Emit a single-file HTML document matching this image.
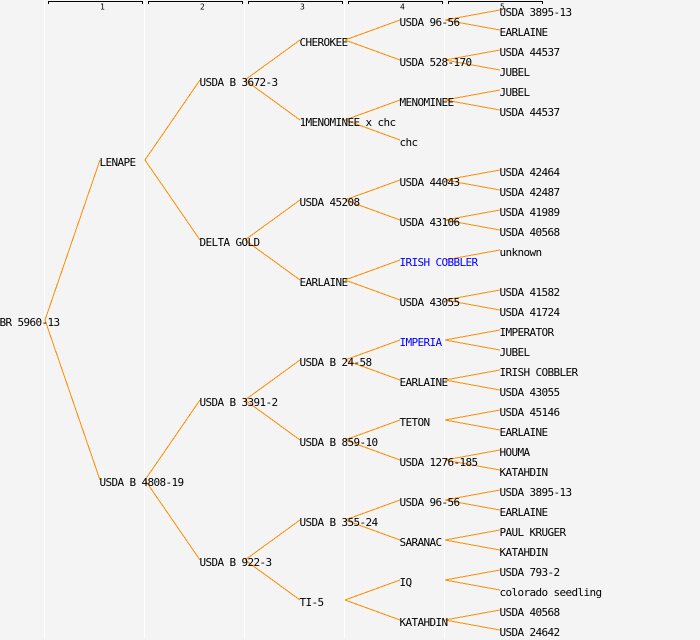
<!DOCTYPE html>
<html><head><meta charset="utf-8"><style>
html,body{margin:0;padding:0;background:#f4f4f4;}
svg{display:block;}
.t{font-family:"DejaVu Sans Mono","Liberation Mono",monospace;font-size:11px;letter-spacing:-0.62px;fill:#000;}
.b{fill:#0000ff;}
.h{font-family:"DejaVu Sans Mono","Liberation Mono",monospace;font-size:8px;fill:#000;}
</style></head><body>
<svg width="700" height="640" viewBox="0 0 700 640" xmlns="http://www.w3.org/2000/svg">
<rect x="0" y="0" width="700" height="640" fill="#f4f4f4"/>
<g stroke="#ffffff" stroke-width="1" shape-rendering="crispEdges">
<line x1="44.5" y1="0" x2="44.5" y2="638"/>
<line x1="144.5" y1="0" x2="144.5" y2="638"/>
<line x1="244.5" y1="0" x2="244.5" y2="638"/>
<line x1="344.5" y1="0" x2="344.5" y2="638"/>
<line x1="444.5" y1="0" x2="444.5" y2="638"/>
</g>
<g stroke="#000" stroke-width="1" fill="none" shape-rendering="crispEdges">
<path d="M48.5 4V1.5H142.5V4"/>
<path d="M148.5 4V1.5H242.5V4"/>
<path d="M248.5 4V1.5H342.5V4"/>
<path d="M348.5 4V1.5H442.5V4"/>
<path d="M448.5 4V1.5H542.5V4"/>
</g>
<text class="h" x="100" y="9.5">1</text>
<text class="h" x="200" y="9.5">2</text>
<text class="h" x="300" y="9.5">3</text>
<text class="h" x="400" y="9.5">4</text>
<text class="h" x="500" y="9.5">5</text>
<g stroke="#ff8c00" stroke-width="1" fill="none" shape-rendering="crispEdges">
<path d="M45 320L100 160M45 320L100 480"/>
<path d="M145 160L200 80M145 160L200 240M145 480L200 400M145 480L200 560"/>
<path d="M245 80L300 40M245 80L300 120M245 240L300 200M245 240L300 280M245 400L300 360M245 400L300 440M245 560L300 520M245 560L300 600"/>
<path d="M345 40L400 20M345 40L400 60M345 120L400 100M345 120L400 140M345 200L400 180M345 200L400 220M345 280L400 260M345 280L400 300M345 360L400 340M345 360L400 380M345 440L400 420M345 440L400 460M345 520L400 500M345 520L400 540M345 600L400 580M345 600L400 620"/>
<path d="M445 20L500 10M445 20L500 30M445 60L500 50M445 60L500 70M445 100L500 90M445 100L500 110M445 180L500 170M445 180L500 190M445 220L500 210M445 220L500 230M445 260L500 250M445 300L500 290M445 300L500 310M445 340L500 330M445 340L500 350M445 380L500 370M445 380L500 390M445 420L500 410M445 420L500 430M445 460L500 450M445 460L500 470M445 500L500 490M445 500L500 510M445 540L500 530M445 540L500 550M445 580L500 570M445 580L500 590M445 620L500 610M445 620L500 630"/>
</g>
<g class="t">
<text x="-0.5" y="326">BR 5960-13</text>
<text x="99.5" y="166">LENAPE</text>
<text x="99.5" y="486">USDA B 4808-19</text>
<text x="199.5" y="86">USDA B 3672-3</text>
<text x="199.5" y="246">DELTA GOLD</text>
<text x="199.5" y="406">USDA B 3391-2</text>
<text x="199.5" y="566">USDA B 922-3</text>
<text x="299.5" y="46">CHEROKEE</text>
<text x="299.5" y="126">1MENOMINEE x chc</text>
<text x="299.5" y="206">USDA 45208</text>
<text x="299.5" y="286">EARLAINE</text>
<text x="299.5" y="366">USDA B 24-58</text>
<text x="299.5" y="446">USDA B 859-10</text>
<text x="299.5" y="526">USDA B 355-24</text>
<text x="299.5" y="606">TI-5</text>
<text x="399.5" y="26">USDA 96-56</text>
<text x="399.5" y="66">USDA 528-170</text>
<text x="399.5" y="106">MENOMINEE</text>
<text x="399.5" y="146">chc</text>
<text x="399.5" y="186">USDA 44043</text>
<text x="399.5" y="226">USDA 43106</text>
<text x="399.5" y="266" class="t b">IRISH COBBLER</text>
<text x="399.5" y="306">USDA 43055</text>
<text x="399.5" y="346" class="t b">IMPERIA</text>
<text x="399.5" y="386">EARLAINE</text>
<text x="399.5" y="426">TETON</text>
<text x="399.5" y="466">USDA 1276-185</text>
<text x="399.5" y="506">USDA 96-56</text>
<text x="399.5" y="546">SARANAC</text>
<text x="399.5" y="586">IQ</text>
<text x="399.5" y="626">KATAHDIN</text>
<text x="499.5" y="16">USDA 3895-13</text>
<text x="499.5" y="36">EARLAINE</text>
<text x="499.5" y="56">USDA 44537</text>
<text x="499.5" y="76">JUBEL</text>
<text x="499.5" y="96">JUBEL</text>
<text x="499.5" y="116">USDA 44537</text>
<text x="499.5" y="176">USDA 42464</text>
<text x="499.5" y="196">USDA 42487</text>
<text x="499.5" y="216">USDA 41989</text>
<text x="499.5" y="236">USDA 40568</text>
<text x="499.5" y="256">unknown</text>
<text x="499.5" y="296">USDA 41582</text>
<text x="499.5" y="316">USDA 41724</text>
<text x="499.5" y="336">IMPERATOR</text>
<text x="499.5" y="356">JUBEL</text>
<text x="499.5" y="376">IRISH COBBLER</text>
<text x="499.5" y="396">USDA 43055</text>
<text x="499.5" y="416">USDA 45146</text>
<text x="499.5" y="436">EARLAINE</text>
<text x="499.5" y="456">HOUMA</text>
<text x="499.5" y="476">KATAHDIN</text>
<text x="499.5" y="496">USDA 3895-13</text>
<text x="499.5" y="516">EARLAINE</text>
<text x="499.5" y="536">PAUL KRUGER</text>
<text x="499.5" y="556">KATAHDIN</text>
<text x="499.5" y="576">USDA 793-2</text>
<text x="499.5" y="596">colorado seedling</text>
<text x="499.5" y="616">USDA 40568</text>
<text x="499.5" y="636">USDA 24642</text>
</g>
</svg>
</body></html>
